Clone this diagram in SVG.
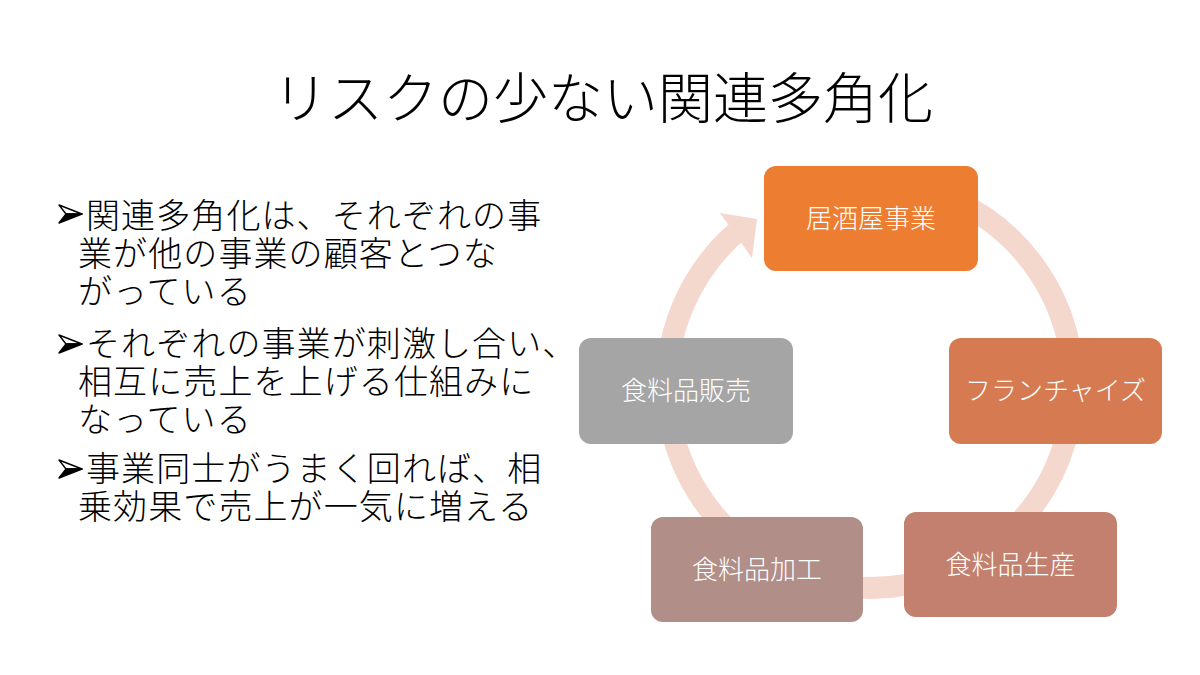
<svg xmlns="http://www.w3.org/2000/svg" width="1200" height="675" viewBox="0 0 1200 675">
<style>
.title{font-family:"Noto Sans CJK JP","Noto Sans",sans-serif;font-size:55px;font-weight:300;fill:#000}
.body{font-family:"Noto Sans CJK JP","Noto Sans",sans-serif;font-size:34px;font-weight:300;fill:#000;letter-spacing:1.1px}
.lbl{font-family:"Noto Sans CJK JP","Noto Sans",sans-serif;font-size:26px;font-weight:300;fill:#fff;text-anchor:middle}
.ring{fill:none;stroke:#F5D8CD;stroke-width:22}
.bul-up{fill:#fff;stroke:#000;stroke-width:1.4;stroke-linejoin:round}
.bul-dn{fill:#000;stroke:#000;stroke-width:1.4;stroke-linejoin:round}
</style>
<rect width="1200" height="675" fill="#fff"/>
<text class="title" x="603" y="118" text-anchor="middle">リスクの少ない関連多角化</text>
<g id="bullets">
<g id="bullet1">
<polygon class="bul-up" points="59,205 82,214 66,214"/>
<polygon class="bul-dn" points="66,214 82,214 59,223"/>
<text class="body"><tspan x="86" y="228">関連多角化は、それぞれの事</tspan><tspan x="78" y="266">業が他の事業の顧客とつな</tspan><tspan x="78" y="304">がっている</tspan></text>
</g>
<g id="bullet2">
<polygon class="bul-up" points="59,335 82,344 66,344"/>
<polygon class="bul-dn" points="66,344 82,344 59,353"/>
<text class="body"><tspan x="86" y="356">それぞれの事業が刺激し合い、</tspan><tspan x="78" y="394">相互に売上を上げる仕組みに</tspan><tspan x="78" y="432">なっている</tspan></text>
</g>
<g id="bullet3">
<polygon class="bul-up" points="59,460 82,469 66,469"/>
<polygon class="bul-dn" points="66,469 82,469 59,478"/>
<text class="body"><tspan x="86" y="481">事業同士がうまく回れば、相</tspan><tspan x="78" y="519">乗効果で売上が一気に増える</tspan></text>
</g>
</g>
<g id="connectors">
<path class="ring" d="M 870 182 A 203 203 0 1 1 735.5 233"/>
<polygon points="720,213 757,219 752,258" fill="#F5D8CD"/>
</g>
<g id="node-izakaya">
<rect x="764" y="166" width="214" height="105" rx="12" fill="#ED7D31"/>
<text class="lbl" x="871" y="228">居酒屋事業</text>
</g>
<g id="node-franchise">
<rect x="949" y="338" width="213" height="106" rx="12" fill="#D67A51"/>
<text class="lbl" x="1055.5" y="400">フランチャイズ</text>
</g>
<g id="node-seisan">
<rect x="904" y="512" width="213" height="105" rx="12" fill="#C3806F"/>
<text class="lbl" x="1010.5" y="574">食料品生産</text>
</g>
<g id="node-kakou">
<rect x="651" y="517" width="212" height="105" rx="12" fill="#B18E87"/>
<text class="lbl" x="757" y="579">食料品加工</text>
</g>
<g id="node-hanbai">
<rect x="579" y="338" width="214" height="106" rx="12" fill="#A5A5A5"/>
<text class="lbl" x="686" y="400">食料品販売</text>
</g>
</svg>
